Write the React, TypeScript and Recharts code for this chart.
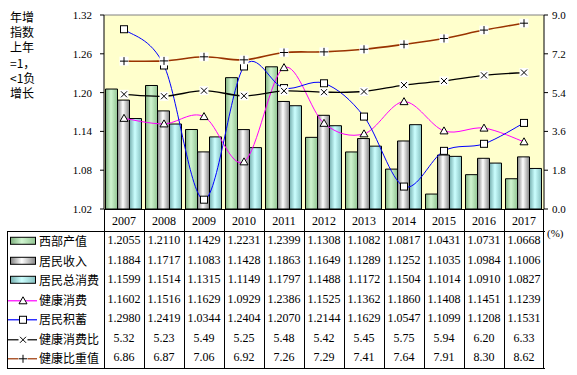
import {
  ComposedChart,
  Bar,
  Line,
  XAxis,
  YAxis,
  CartesianGrid,
  ReferenceLine,
} from 'recharts';

const years = ['2007', '2008', '2009', '2010', '2011', '2012', '2013', '2014', '2015', '2016', '2017'];
const westOutput = [1.2055, 1.211, 1.1429, 1.2231, 1.2399, 1.1308, 1.1082, 1.0817, 1.0431, 1.0731, 1.0668];
const income = [1.1884, 1.1717, 1.1083, 1.1428, 1.1863, 1.1649, 1.1289, 1.1252, 1.1035, 1.0984, 1.1006];
const totalConsumption = [1.1599, 1.1514, 1.1315, 1.1149, 1.1797, 1.1488, 1.1172, 1.1504, 1.1014, 1.091, 1.0827];
const healthConsumption = [1.1602, 1.1516, 1.1629, 1.0929, 1.2386, 1.1525, 1.1362, 1.186, 1.1408, 1.1451, 1.1239];
const savings = [1.298, 1.2419, 1.0344, 1.2404, 1.207, 1.2144, 1.1629, 1.0547, 1.1099, 1.1208, 1.1531];
const healthRatio = [5.32, 5.23, 5.49, 5.25, 5.48, 5.42, 5.45, 5.75, 5.94, 6.2, 6.33];
const healthShare = [6.86, 6.87, 7.06, 6.92, 7.26, 7.29, 7.41, 7.64, 7.91, 8.3, 8.62];

const leftTicks = [1.02, 1.08, 1.14, 1.2, 1.26, 1.32];
const rightTicks = [0, 1.8, 3.6, 5.4, 7.2, 9.0];
const axisTitle = ['年增', '指数', '上年', '=1，', '<1负', '增长'];

// layout constants
const PLOT_L = 104;
const PLOT_R = 544;
const PLOT_T = 15;
const PLOT_B = 209;
const COL_W = (PLOT_R - PLOT_L) / years.length;
const TABLE_T = 231;
const TABLE_B = 368;
const ROW_H = (TABLE_B - TABLE_T) / 7;

const serif = '"Liberation Serif", "Times New Roman", serif';
const cjk = '"Noto Sans CJK SC", "Noto Sans", sans-serif';

// Excel-like smoothed line (Catmull-Rom through the points)
function excelSmooth(context: any) {
  let pts: [number, number][] = [];
  return {
    areaStart() {},
    areaEnd() {},
    lineStart() {
      pts = [];
    },
    point(x: number, y: number) {
      pts.push([+x, +y]);
    },
    lineEnd() {
      const n = pts.length;
      if (!n) return;
      context.moveTo(pts[0][0], pts[0][1]);
      for (let i = 0; i < n - 1; i++) {
        const p0 = pts[Math.max(i - 1, 0)];
        const p1 = pts[i];
        const p2 = pts[i + 1];
        const p3 = pts[Math.min(i + 2, n - 1)];
        context.bezierCurveTo(
          p1[0] + (p2[0] - p0[0]) / 6,
          p1[1] + (p2[1] - p0[1]) / 6,
          p2[0] - (p3[0] - p1[0]) / 6,
          p2[1] - (p3[1] - p1[1]) / 6,
          p2[0],
          p2[1],
        );
      }
    },
  };
}

type Marker = 'triangle' | 'square' | 'cross' | 'plus';

function markerShape(kind: Marker, cx: number, cy: number, key?: string | number) {
  if (kind === 'triangle') {
    return (
      <path key={key} d={`M${cx},${cy - 4}L${cx + 4},${cy + 3}L${cx - 4},${cy + 3}Z`} fill="#fff" stroke="#000" strokeWidth={1} />
    );
  }
  if (kind === 'square') {
    return <rect key={key} x={cx - 3.5} y={cy - 3.5} width={7} height={7} fill="#fff" stroke="#000" strokeWidth={1} />;
  }
  if (kind === 'cross') {
    return (
      <g key={key}>
        <rect x={cx - 4.5} y={cy - 4.5} width={9} height={9} fill="#fff" />
        <path d={`M${cx - 3},${cy - 3}L${cx + 3},${cy + 3}M${cx + 3},${cy - 3}L${cx - 3},${cy + 3}`} stroke="#000" strokeWidth={1} />
      </g>
    );
  }
  return (
    <g key={key}>
      <rect x={cx - 4.5} y={cy - 4.5} width={9} height={9} fill="#fff" />
      <path d={`M${cx - 4},${cy}L${cx + 4},${cy}M${cx},${cy - 4}L${cx},${cy + 4}`} stroke="#000" strokeWidth={1} />
    </g>
  );
}

const dotFor = (kind: Marker) => (props: any) => markerShape(kind, props.cx, props.cy, `${kind}-${props.index}`);

const rows: { name: string; values: number[]; digits: number; icon: 'bar' | 'line'; fill?: string; stroke?: string; marker?: Marker }[] = [
  { name: '西部产值', values: westOutput, digits: 4, icon: 'bar', fill: 'url(#gGreen)' },
  { name: '居民收入', values: income, digits: 4, icon: 'bar', fill: 'url(#gGray)' },
  { name: '居民总消费', values: totalConsumption, digits: 4, icon: 'bar', fill: 'url(#gCyan)' },
  { name: '健康消费', values: healthConsumption, digits: 4, icon: 'line', stroke: '#ff00ff', marker: 'triangle' },
  { name: '居民积蓄', values: savings, digits: 4, icon: 'line', stroke: '#0000ff', marker: 'square' },
  { name: '健康消费比', values: healthRatio, digits: 2, icon: 'line', stroke: '#000000', marker: 'cross' },
  { name: '健康比重值', values: healthShare, digits: 2, icon: 'line', stroke: '#993300', marker: 'plus' },
];

const data = years.map((year, i) => ({
  year,
  west: westOutput[i],
  income: income[i],
  total: totalConsumption[i],
  health: healthConsumption[i],
  savings: savings[i],
  ratio: healthRatio[i],
  share: healthShare[i],
}));

function Gradients() {
  return (
    <defs>
      <linearGradient id="gGreen" x1="0" y1="0" x2="1" y2="0">
        <stop offset="0" stopColor="#7fb07f" />
        <stop offset="0.45" stopColor="#d0f5d0" />
        <stop offset="1" stopColor="#92c492" />
      </linearGradient>
      <linearGradient id="gGray" x1="0" y1="0" x2="1" y2="0">
        <stop offset="0" stopColor="#808080" />
        <stop offset="0.45" stopColor="#ffffff" />
        <stop offset="1" stopColor="#868686" />
      </linearGradient>
      <linearGradient id="gCyan" x1="0" y1="0" x2="1" y2="0">
        <stop offset="0" stopColor="#76aeae" />
        <stop offset="0.45" stopColor="#ccffff" />
        <stop offset="1" stopColor="#86c0c0" />
      </linearGradient>
    </defs>
  );
}

const tickStyle = { fontSize: 11, fill: '#000', fontFamily: serif };

export default function App() {
  return (
    <div style={{ position: 'relative', width: 577, height: 375, background: '#fff', overflow: 'hidden' }}>
      <style>{'body{margin:0}'}</style>
      <svg width={0} height={0} style={{ position: 'absolute' }}>
        <Gradients />
      </svg>

      {/* vertical axis title */}
      {axisTitle.map((t, i) => (
        <div key={t} style={{ position: 'absolute', left: 10, top: 9 + i * 15.2, height: 15, lineHeight: '15px', fontFamily: cjk, fontSize: 12, color: '#000', whiteSpace: 'nowrap' }}>
          {t}
        </div>
      ))}

      <div style={{ position: 'absolute', left: 0, top: 0 }}>
        <ComposedChart
          width={577}
          height={PLOT_B + 12}
          data={data}
          margin={{ top: PLOT_T, right: 0, bottom: 12, left: 0 }}
          barCategoryGap={1.5}
          barGap={0}
        >
          <Gradients />
          <CartesianGrid yAxisId="left" fill="#ffffcc" horizontal={false} vertical={false} stroke="none" />
          <XAxis dataKey="year" hide />
          <YAxis
            yAxisId="left"
            orientation="left"
            width={PLOT_L}
            domain={[1.02, 1.32]}
            ticks={leftTicks}
            interval={0}
            tickFormatter={(v: number) => v.toFixed(2)}
            tick={tickStyle}
            tickSize={4}
            tickMargin={8}
            axisLine={{ stroke: '#000' }}
            tickLine={{ stroke: '#000' }}
          />
          <YAxis
            yAxisId="right"
            orientation="right"
            width={577 - PLOT_R}
            domain={[0, 9]}
            ticks={rightTicks}
            interval={0}
            tickFormatter={(v: number) => v.toFixed(1)}
            tick={tickStyle}
            tickSize={4}
            tickMargin={4}
            axisLine={{ stroke: '#000' }}
            tickLine={{ stroke: '#000' }}
          />
          <ReferenceLine yAxisId="left" y={1.32} stroke="#808080" />
          <Bar yAxisId="left" dataKey="west" fill="url(#gGreen)" stroke="#000" strokeWidth={1} isAnimationActive={false} />
          <Bar yAxisId="left" dataKey="income" fill="url(#gGray)" stroke="#000" strokeWidth={1} isAnimationActive={false} />
          <Bar yAxisId="left" dataKey="total" fill="url(#gCyan)" stroke="#000" strokeWidth={1} isAnimationActive={false} />
          <Line yAxisId="left" dataKey="health" type={excelSmooth as any} stroke="#ff00ff" strokeWidth={1} dot={dotFor('triangle')} activeDot={false} isAnimationActive={false} />
          <Line yAxisId="left" dataKey="savings" type={excelSmooth as any} stroke="#0000ff" strokeWidth={1} dot={dotFor('square')} activeDot={false} isAnimationActive={false} />
          <Line yAxisId="right" dataKey="ratio" type={excelSmooth as any} stroke="#000" strokeWidth={1.3} dot={dotFor('cross')} activeDot={false} isAnimationActive={false} />
          <Line yAxisId="right" dataKey="share" type={excelSmooth as any} stroke="#993300" strokeWidth={1.6} dot={dotFor('plus')} activeDot={false} isAnimationActive={false} />
        </ComposedChart>
      </div>

      {/* data table grid (drawn over the lower chart margin) */}
      <div style={{ position: 'absolute', left: PLOT_L + 1, top: PLOT_B + 1, width: PLOT_R - PLOT_L - 2, height: TABLE_T - PLOT_B - 1, background: '#fff' }} />
      <div style={{ position: 'absolute', left: 7, top: TABLE_T, width: PLOT_R - 7, height: TABLE_B - TABLE_T - 1, borderTop: '1px solid #000', borderBottom: '1px solid #000', borderLeft: '1px solid #000' }} />
      <div style={{ position: 'absolute', left: PLOT_L, top: PLOT_B, width: PLOT_R - PLOT_L, height: 1, background: '#000' }} />
      {Array.from({ length: years.length + 1 }, (_, i) => (
        <div key={`v${i}`} style={{ position: 'absolute', left: PLOT_L + i * COL_W - (i === years.length ? 1 : 0), top: PLOT_B, width: 1, height: TABLE_B - PLOT_B, background: '#000' }} />
      ))}

      {/* (%) unit label */}
      <div style={{ position: 'absolute', left: 547, top: 227, fontFamily: serif, fontSize: 11 }}>(%)</div>

      {years.map((y, i) => (
        <div key={y} style={{ position: 'absolute', left: PLOT_L + i * COL_W, top: PLOT_B + 1, width: COL_W, height: TABLE_T - PLOT_B, lineHeight: `${TABLE_T - PLOT_B}px`, textAlign: 'center', fontFamily: serif, fontSize: 12 }}>
          {y}
        </div>
      ))}

      {rows.map((r, ri) => {
        const top = TABLE_T + ri * ROW_H;
        const midY = ROW_H / 2;
        return (
          <div key={r.name}>
            <svg style={{ position: 'absolute', left: 7, top }} width={32} height={ROW_H}>
              {r.icon === 'bar' ? (
                <rect x={3.5} y={midY - 3.5} width={25} height={7} fill={r.fill} stroke="#000" />
              ) : (
                <>
                  <line x1={1} x2={30} y1={midY + 1} y2={midY + 1} stroke={r.stroke} strokeWidth={1.2} />
                  {markerShape(r.marker as Marker, 16, midY + 1)}
                </>
              )}
            </svg>
            <div style={{ position: 'absolute', left: 39, top, height: ROW_H, lineHeight: `${ROW_H}px`, fontFamily: cjk, fontSize: 12, whiteSpace: 'nowrap' }}>
              {r.name}
            </div>
            {r.values.map((v, i) => (
              <div key={i} style={{ position: 'absolute', left: PLOT_L + i * COL_W, top, width: COL_W, height: ROW_H, lineHeight: `${ROW_H}px`, textAlign: 'center', fontFamily: serif, fontSize: 12, whiteSpace: 'nowrap' }}>
                {v.toFixed(r.digits)}
              </div>
            ))}
          </div>
        );
      })}
    </div>
  );
}
